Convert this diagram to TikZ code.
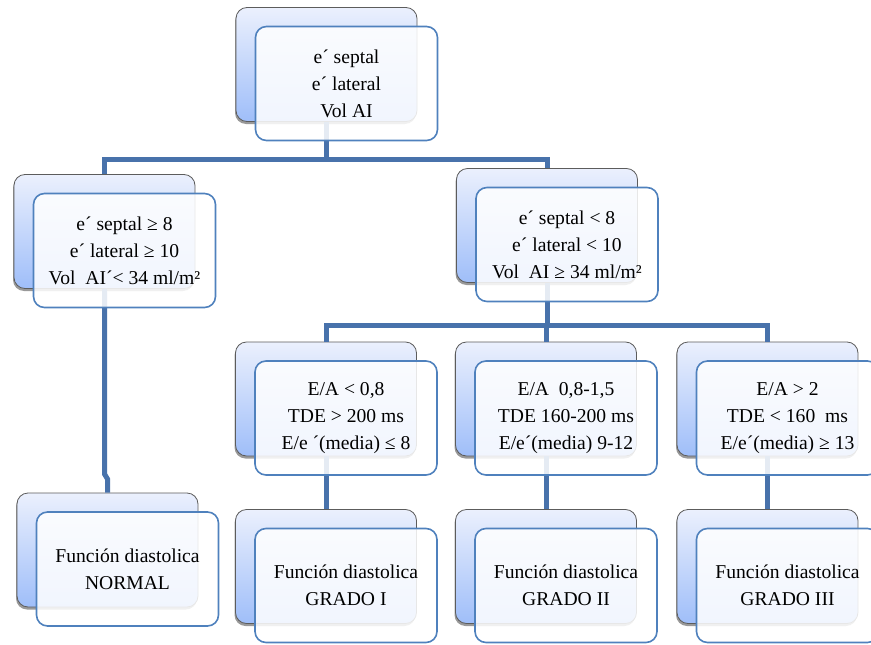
\documentclass[tikz,border=0pt]{standalone}
\usepackage{fontspec}
\setmainfont{Liberation Serif}
\usetikzlibrary{shadows}
\definecolor{conncol}{HTML}{4872AB}
\definecolor{frontcol}{HTML}{4F81BD}
\definecolor{backtop}{HTML}{EBF0FD}
\definecolor{backbot}{HTML}{9FBEF9}
\definecolor{backedge}{HTML}{5C5C5C}
\begin{document}
\begin{tikzpicture}[x=1pt,y=-1pt,
  backbox/.style={draw=backedge, line width=0.8pt, rounded corners=11pt,
    minimum width=181pt, minimum height=114pt, inner sep=0pt,
    top color=backtop, bottom color=backbot,
    drop shadow={shadow xshift=-1pt, shadow yshift=-2.5pt, opacity=0.4, fill=black}},
  frontbox/.style={draw=frontcol, line width=1.6pt, rounded corners=11pt,
    minimum width=182pt, minimum height=114pt, inner sep=0pt,
    fill=white, fill opacity=0.86, text opacity=1, align=center,
    font=\fontsize{19.6}{27}\selectfont},
  conn/.style={draw=conncol, line width=5pt}]
\useasboundingbox (0,0) rectangle (871,645);
% back boxes
\node[backbox] (b0) at (326.5,64.5) {};
\node[backbox] (b1) at (104.5,231.5) {};
\node[backbox] (b2) at (547,225.5) {};
\node[backbox] (b3) at (326,399) {};
\node[backbox] (b4) at (546,399) {};
\node[backbox] (b5) at (767.5,399) {};
\node[backbox] (b6) at (107.5,550) {};
\node[backbox] (b7) at (326,566.5) {};
\node[backbox] (b8) at (546,566.5) {};
\node[backbox] (b9) at (767.5,566.5) {};
% connectors
\coordinate (h1) at (0,159);
\coordinate (h2) at (0,325.5);
\coordinate (k1) at (0,474);
\coordinate (k2) at (0,479);
\draw[conn] (b0.south) -- (b0.south |- h1);
\draw[conn] (b1.north) -- (b1.north |- h1) -- (b2.north |- h1) -- (b2.north);
\draw[conn] (b2.south) -- (b2.south |- h2);
\draw[conn] (b3.north) -- (b3.north |- h2) -- (b5.north |- h2) -- (b5.north);
\draw[conn] (b4.north) -- (b4.north |- h2);
\draw[conn] (b1.south) -- (b1.south |- k1) -- (b6.north |- k2) -- (b6.north);
\draw[conn] (b3.south) -- (b7.north);
\draw[conn] (b4.south) -- (b8.north);
\draw[conn] (b5.south) -- (b9.north);
% front boxes
\node[frontbox] (f0) at ([shift={(20,19)}]b0.center) {e´ septal\\e´ lateral\\Vol AI};
\node[frontbox] (f1) at ([shift={(20,19)}]b1.center) {e´ septal ≥ 8\\e´ lateral ≥ 10\\Vol\ \ AI´< 34 ml/m²};
\node[frontbox] (f2) at ([shift={(20,19)}]b2.center) {e´ septal < 8\\e´ lateral < 10\\Vol\ \ AI ≥ 34 ml/m²};
\node[frontbox] (f3) at ([shift={(20,19)}]b3.center) {E/A < 0,8\\TDE > 200 ms\\E/e ´(media) ≤ 8};
\node[frontbox] (f4) at ([shift={(20,19)}]b4.center) {E/A\ \ 0,8-1,5\\TDE 160-200 ms\\E/e´(media) 9-12};
\node[frontbox] (f5) at ([shift={(20,19)}]b5.center) {E/A > 2\\TDE < 160\ \ ms\\E/e´(media) ≥ 13};
\node[frontbox] (f6) at ([shift={(20,19)}]b6.center) {Función diastolica\\NORMAL};
\node[frontbox] (f7) at ([shift={(20,19)}]b7.center) {Función diastolica\\GRADO I};
\node[frontbox] (f8) at ([shift={(20,19)}]b8.center) {Función diastolica\\GRADO II};
\node[frontbox] (f9) at ([shift={(20,19)}]b9.center) {Función diastolica\\GRADO III};
\end{tikzpicture}
\end{document}
